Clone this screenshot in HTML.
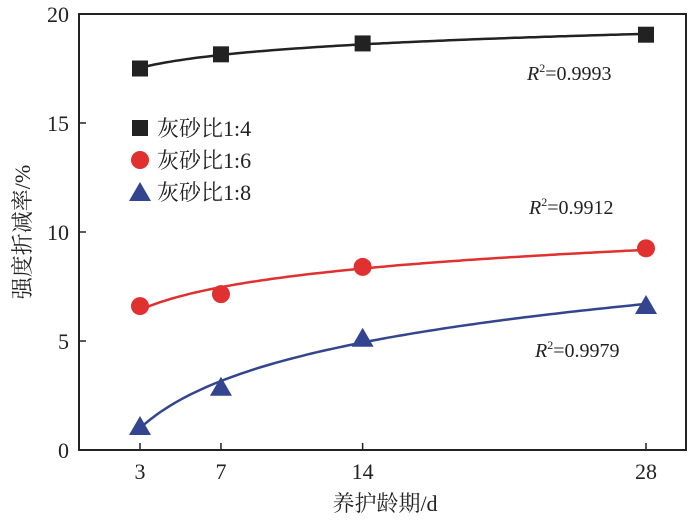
<!DOCTYPE html>
<html><head><meta charset="utf-8"><style>
body{margin:0;background:#fff}
svg text{font-family:"Liberation Serif","Noto Serif CJK SC",serif;fill:#222}
</style></head><body>
<svg id="c" width="700" height="521"></svg>
<script>
const categories=[3,7,14,28];
const series14=[17.5,18.15,18.65,19.05];
const series16=[6.6,7.15,8.4,9.25];
const series18=[1.1,2.9,5.15,6.65];
const yTicks=[0,5,10,15,20];
const seriesNames=["灰砂比1:4","灰砂比1:6","灰砂比1:8"];
const r2Labels=["0.9993","0.9912","0.9979"];
const NS="http://www.w3.org/2000/svg";
const svg=document.getElementById('c');
const L=79,R=686,T=14,B=450;
const xs=v=>140+(v-3)*(646-140)/25;
const ys=v=>B-v*(B-T)/20;
function mk(t,a,p){const e=document.createElementNS(NS,t);for(const k in a)e.setAttribute(k,a[k]);(p||svg).appendChild(e);return e;}
const box=mk('rect',{x:L,y:T,width:R-L,height:B-T,fill:'none',stroke:'#222','stroke-width':2});


yTicks.forEach(v=>{
 const t=mk('line',{x1:L,x2:L+7,y1:ys(v),y2:ys(v),stroke:'#222','stroke-width':1.5});
 
 
 const lb=mk('text',{x:L-10,y:ys(v)+8,'text-anchor':'end','font-size':22});lb.textContent=v;
 
 
});
categories.forEach(v=>{
 const t=mk('line',{x1:xs(v),x2:xs(v),y1:B,y2:B-7,stroke:'#222','stroke-width':1.5});
 
 
 const lb=mk('text',{x:xs(v),y:B+29,'text-anchor':'middle','font-size':22});lb.textContent=v;
 
 
});
const xt=mk('text',{x:385,y:511,'text-anchor':'middle','font-size':22});xt.textContent='养护龄期/d';


const yt=mk('text',{x:0,y:0,'text-anchor':'middle','font-size':22,transform:'translate(30,232) rotate(-90)'});yt.textContent='强度折减率/%';


const colors=['#222','#e03030','#34458f'];
const all=[series14,series16,series18];
const shapes=['square','circle','triangle'];
function marker(shape,x,y,c,name){
 let e;
 if(shape==='square')e=mk('rect',{x:x-8,y:y-8,width:16,height:16,fill:c});
 else if(shape==='circle')e=mk('circle',{cx:x,cy:y,r:9,fill:c});
 else e=mk('polygon',{points:`${x},${y-10} ${x-11},${y+9} ${x+11},${y+9}`,fill:c});
 
 
}
all.forEach((s,i)=>{
 const lx=categories.map(Math.log);const n=s.length;
 const mx=lx.reduce((a,b)=>a+b)/n,my=s.reduce((a,b)=>a+b)/n;
 let sxy=0,sxx=0;lx.forEach((v,k)=>{sxy+=(v-mx)*(s[k]-my);sxx+=(v-mx)*(v-mx);});
 const b=sxy/sxx,a=my-b*mx;
 let d='';for(let x=categories[0];x<=categories[n-1]+0.001;x+=0.25){d+=(d?'L':'M')+xs(x).toFixed(1)+','+ys(a+b*Math.log(x)).toFixed(1);}
 const p=mk('path',{d,fill:'none',stroke:colors[i],'stroke-width':2.5});
 
 
 s.forEach((v,k)=>marker(shapes[i],xs(categories[k]),ys(v),colors[i],'point-series-'+(i+1)));
 marker(shapes[i],140,128+i*32,colors[i],'legend-marker-'+(i+1));
 const lt=mk('text',{x:157,y:136+i*32,'font-size':22});lt.textContent=seriesNames[i];
 
 
});
const rpos=[[527,80],[529,214],[535,357]];
r2Labels.forEach((r,i)=>{
 const t=mk('text',{x:rpos[i][0],y:rpos[i][1],'font-size':20});
 t.innerHTML='<tspan font-style="italic">R</tspan><tspan font-size="12" dy="-8">2</tspan><tspan dy="8">='+r+'</tspan>';
 
 
});
</script>
</body></html>
